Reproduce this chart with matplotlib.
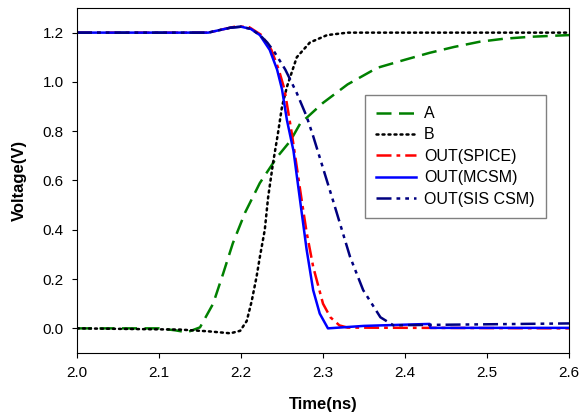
import matplotlib
matplotlib.use("Agg")
import matplotlib.pyplot as plt

# ── Data ──────────────────────────────────────────────────────────────────────
a_t = [2.0, 2.10, 2.12, 2.134, 2.15, 2.166, 2.178, 2.19, 2.205, 2.223, 2.244,
       2.26, 2.272, 2.30, 2.33, 2.366, 2.40, 2.43, 2.46, 2.491, 2.52, 2.552, 2.6]
a_v = [0.0, 0.0, -0.008, -0.016, 0.004, 0.1, 0.22, 0.345, 0.47, 0.59, 0.695,
       0.76, 0.83, 0.915, 0.99, 1.057, 1.09, 1.118, 1.142, 1.163, 1.175, 1.183, 1.19]

b_t = [2.0, 2.126, 2.16, 2.187, 2.199, 2.207, 2.213, 2.219, 2.223, 2.229, 2.233,
       2.239, 2.245, 2.25, 2.256, 2.262, 2.268, 2.284, 2.305, 2.33, 2.6]
b_v = [0.0, -0.005, -0.012, -0.02, -0.01, 0.03, 0.11, 0.21, 0.29, 0.4, 0.53,
       0.67, 0.79, 0.9, 0.98, 1.04, 1.1, 1.16, 1.19, 1.2, 1.2]

spice_t = [2.0, 2.16, 2.18, 2.195, 2.21, 2.225, 2.237, 2.246, 2.253, 2.262, 2.274,
           2.28, 2.288, 2.30, 2.309, 2.32, 2.33, 2.6]
spice_v = [1.2, 1.2, 1.215, 1.226, 1.222, 1.19, 1.13, 1.05, 0.97, 0.79, 0.52,
           0.39, 0.25, 0.10, 0.045, 0.012, 0.003, 0.0]

mcsm_t = [2.0, 2.16, 2.187, 2.2, 2.212, 2.223, 2.235, 2.244, 2.25, 2.256, 2.264,
          2.272, 2.28, 2.288, 2.296, 2.306, 2.35, 2.43, 2.431, 2.6]
mcsm_v = [1.2, 1.2, 1.22, 1.224, 1.215, 1.19, 1.13, 1.05, 0.97, 0.845, 0.72,
          0.52, 0.32, 0.155, 0.06, 0.0, 0.01, 0.018, 0.002, 0.002]

sis_t = [2.0, 2.16, 2.187, 2.2, 2.212, 2.223, 2.232, 2.241, 2.254, 2.268, 2.28,
         2.288, 2.313, 2.333, 2.349, 2.37, 2.386, 2.40, 2.6]
sis_v = [1.2, 1.2, 1.22, 1.224, 1.215, 1.19, 1.16, 1.12, 1.05, 0.955, 0.86,
         0.78, 0.51, 0.29, 0.155, 0.045, 0.012, 0.013, 0.02]

x_ticks = [2.0, 2.1, 2.2, 2.3, 2.4, 2.5, 2.6]
y_ticks = [0.0, 0.2, 0.4, 0.6, 0.8, 1.0, 1.2]

# ── Plot ──────────────────────────────────────────────────────────────────────
plt.rcParams["font.family"] = ["Liberation Sans", "DejaVu Sans"]

fig = plt.figure(figsize=(5.82, 4.18), dpi=100)
ax = fig.add_axes([0.1323, 0.1555, 0.8454, 0.8254])

ax.plot(a_t, a_v, color="#008000", lw=1.8, dashes=(6, 3), label="A")
ax.plot(b_t, b_v, color="black", lw=1.8, dashes=(0.8, 1.6),
        dash_capstyle="round", label="B")
ax.plot(spice_t, spice_v, color="#ff0000", lw=1.8, dashes=(6, 2, 1.5, 2),
        label="OUT(SPICE)")
ax.plot(mcsm_t, mcsm_v, color="#0000ff", lw=1.8, label="OUT(MCSM)")
ax.plot(sis_t, sis_v, color="#000080", lw=1.8,
        dashes=(6, 2, 1.5, 2, 1.5, 2), label="OUT(SIS CSM)")

ax.set_xlim(2.0, 2.6)
ax.set_ylim(-0.1, 1.3)
ax.set_xticks(x_ticks)
ax.set_yticks(y_ticks)
ax.set_xticklabels([f"{t:.1f}" for t in x_ticks])
ax.set_yticklabels([f"{v:.1f}" for v in y_ticks])
ax.tick_params(direction="out", length=3.6, pad=6, labelsize=11,
               top=False, right=False)

ax.set_xlabel("Time(ns)", fontsize=12, fontweight="bold", labelpad=12)
ax.set_ylabel("Voltage(V)", fontsize=12, fontweight="bold", labelpad=11)

leg = ax.legend(loc="upper left", bbox_to_anchor=(0.585, 0.748), fontsize=11.5,
                fancybox=False, edgecolor="gray", framealpha=1,
                handlelength=2.5, handletextpad=0.5, labelspacing=0.4,
                borderpad=0.7, borderaxespad=0)
leg.get_frame().set_linewidth(1.0)

fig.savefig("out.png", dpi=100)
